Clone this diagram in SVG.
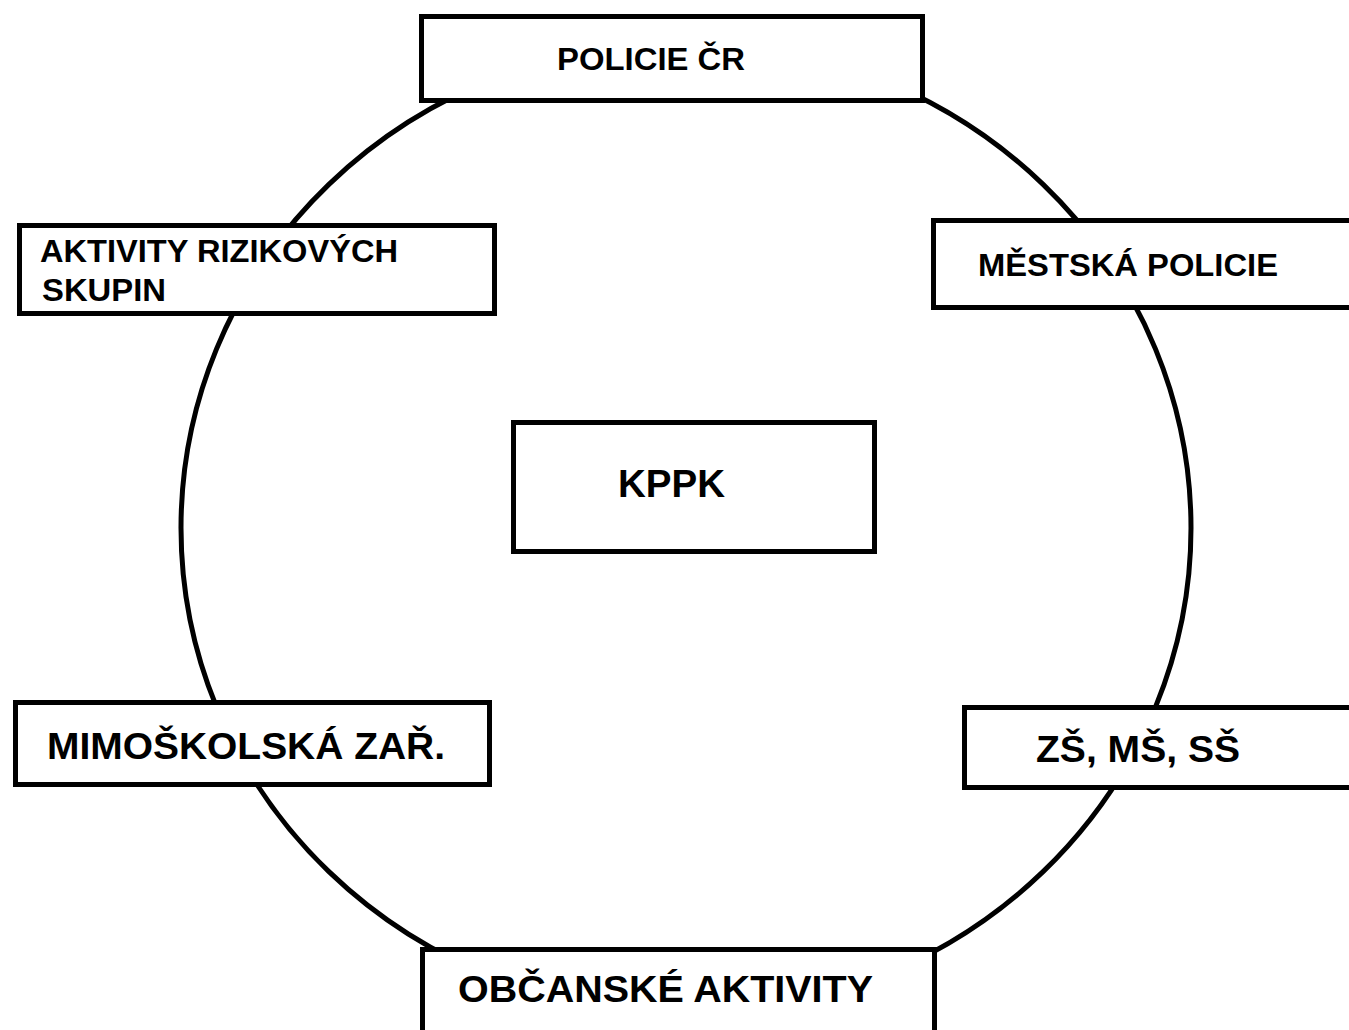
<svg xmlns="http://www.w3.org/2000/svg" width="1349" height="1030" viewBox="0 0 1349 1030">
<style>
.box{fill:#fff;stroke:#000;stroke-width:5}
.t{font-family:"Liberation Sans",Arial,sans-serif;font-weight:bold;fill:#000}
</style>
<rect x="0" y="0" width="1349" height="1030" fill="#fff"/>
<g id="connectors">
<ellipse cx="686" cy="528" rx="505" ry="486" fill="none" stroke="#000" stroke-width="5"/>
</g>
<g id="policie">
<rect class="box" x="421.5" y="16.5" width="501" height="84"/>
<text class="t" x="557" y="70" font-size="32" textLength="188" lengthAdjust="spacingAndGlyphs">POLICIE ČR</text>
</g>
<g id="aktivity">
<rect class="box" x="19.5" y="225.5" width="475" height="88"/>
<text class="t" x="40" y="262" font-size="32" textLength="358" lengthAdjust="spacingAndGlyphs">AKTIVITY RIZIKOVÝCH</text>
<text class="t" x="42" y="301" font-size="32" textLength="124" lengthAdjust="spacingAndGlyphs">SKUPIN</text>
</g>
<g id="mestska">
<rect class="box" x="933.5" y="220.5" width="430" height="87"/>
<text class="t" x="978" y="276" font-size="32" textLength="300" lengthAdjust="spacingAndGlyphs">MĚSTSKÁ POLICIE</text>
</g>
<g id="kppk">
<rect class="box" x="513.5" y="422.5" width="361" height="129"/>
<text class="t" x="618" y="497" font-size="38" textLength="107" lengthAdjust="spacingAndGlyphs">KPPK</text>
</g>
<g id="mimoskolska">
<rect class="box" x="15.5" y="702.5" width="474" height="82"/>
<text class="t" x="47" y="759" font-size="37" textLength="398" lengthAdjust="spacingAndGlyphs">MIMOŠKOLSKÁ ZAŘ.</text>
</g>
<g id="skoly">
<rect class="box" x="964.5" y="707.5" width="400" height="80"/>
<text class="t" x="1036" y="762" font-size="37" textLength="204" lengthAdjust="spacingAndGlyphs">ZŠ, MŠ, SŠ</text>
</g>
<g id="obcanske">
<rect class="box" x="422.5" y="949.5" width="512" height="100"/>
<text class="t" x="458" y="1002" font-size="37" textLength="415" lengthAdjust="spacingAndGlyphs">OBČANSKÉ AKTIVITY</text>
</g>
</svg>
